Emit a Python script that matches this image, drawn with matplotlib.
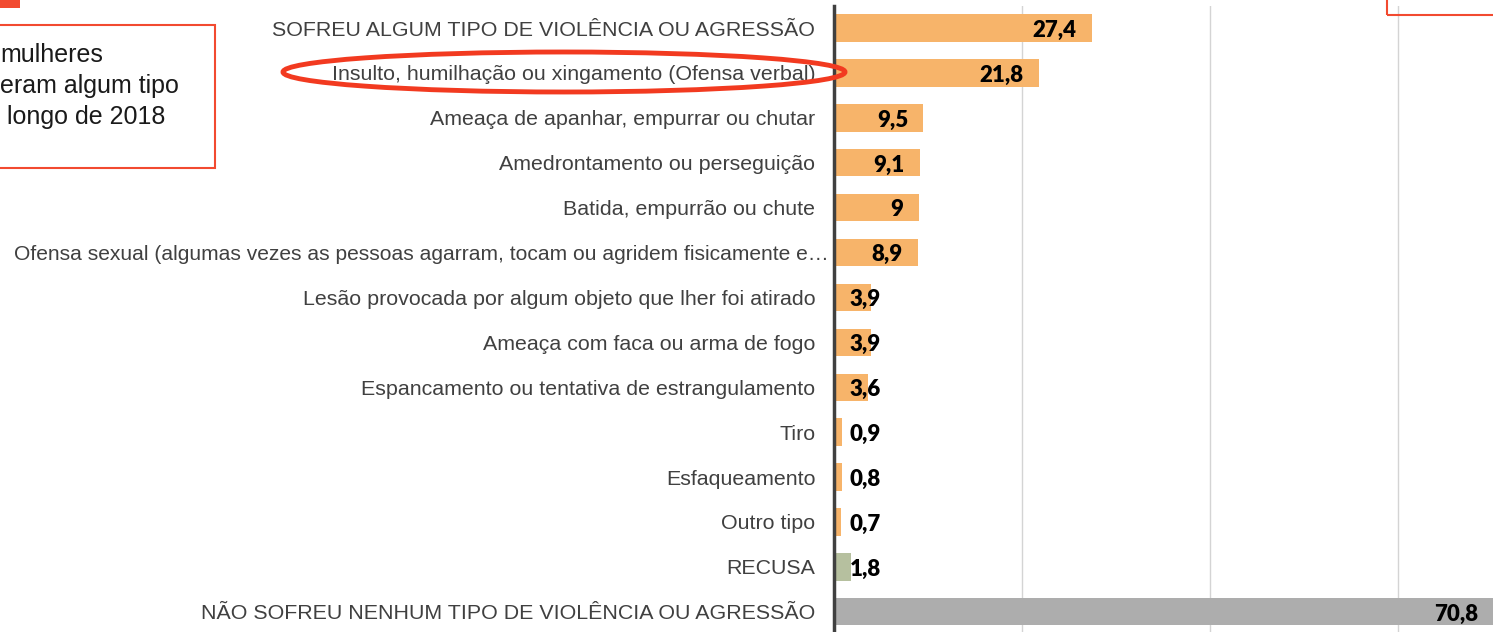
import numpy as np
import matplotlib.pyplot as plt
from matplotlib import patches
from matplotlib.transforms import ScaledTranslation

categories = [
    'SOFREU ALGUM TIPO DE VIOLÊNCIA OU AGRESSÃO',
    'Insulto, humilhação ou xingamento (Ofensa verbal)',
    'Ameaça de apanhar, empurrar ou chutar',
    'Amedrontamento ou perseguição',
    'Batida, empurrão ou chute',
    'Ofensa sexual (algumas vezes as pessoas agarram, tocam ou agridem fisicamente e…',
    'Lesão provocada por algum objeto que lher foi atirado',
    'Ameaça com faca ou arma de fogo',
    'Espancamento ou tentativa de estrangulamento',
    'Tiro',
    'Esfaqueamento',
    'Outro tipo',
    'RECUSA',
    'NÃO SOFREU NENHUM TIPO DE VIOLÊNCIA OU AGRESSÃO',
]
values = [27.4, 21.8, 9.5, 9.1, 9.0, 8.9, 3.9, 3.9, 3.6, 0.9, 0.8, 0.7, 1.8, 70.8]
value_labels = ['27,4', '21,8', '9,5', '9,1', '9', '8,9', '3,9', '3,9', '3,6',
                '0,9', '0,8', '0,7', '1,8', '70,8']
bar_colors = ['#f7b46a'] * 12 + ['#b6c09f', '#adadad']

box_lines = ['mulheres', 'eram algum tipo', ' longo de 2018']

W, H = 1493, 632
fig = plt.figure(figsize=(W / 100, H / 100), dpi=100)
ax = fig.add_axes([834 / W, 0, 1 - 834 / W, 1 - 6 / H])

y = np.arange(len(categories))
ax.barh(y, values, height=0.61, color=bar_colors, zorder=2)
ax.set_xlim(0, 70.1)
ax.set_ylim(13.45, -0.49)

ax.set_xticks([20, 40, 60])
ax.xaxis.grid(True, color='#d4d4d4', lw=1, zorder=0)
ax.tick_params(axis='x', length=0, labelbottom=False)
ax.set_yticks(y)
ax.set_yticklabels(categories, family='Liberation Sans', fontsize=15.4, color='#404040')
ax.tick_params(axis='y', length=0, pad=13.5)
# the long truncated label sits a bit closer to the axis
long_lab = ax.get_yticklabels()[5]
long_lab.set_fontsize(15.1)
long_lab.set_transform(long_lab.get_transform() + ScaledTranslation(0.14, 0, fig.dpi_scale_trans))
for s in ['top', 'right', 'bottom']:
    ax.spines[s].set_visible(False)
ax.spines['left'].set_color('#404040')
ax.spines['left'].set_linewidth(2.5)
ax.spines['left'].set_zorder(3)

for yi, v, lab in zip(y, values, value_labels):
    if v > 5:
        x = min(v, 70.1) - 1.6
        ha = 'right'
    else:
        x = 1.7
        ha = 'left'
    ax.text(x, yi + 0.05, lab, ha=ha, va='center', fontsize=16,
            fontweight='heavy', family='Lato', color='black', zorder=4)

# red annotation box on the left
fig.add_artist(patches.Rectangle((-10 / W, 1 - 168 / H), 225 / W, 143 / H,
                                 transform=fig.transFigure, fill=False,
                                 ec='#f24a30', lw=1.5))
for i, line in enumerate(box_lines):
    fig.text(0 / W, 1 - (62 + 31 * i) / H, line, family='Liberation Sans',
             fontsize=18, color='#1a1a1a', va='baseline', ha='left')
fig.add_artist(patches.Rectangle((0, 1 - 8 / H), 20 / W, 8 / H,
                                 transform=fig.transFigure, color='#f24a30', lw=0))
fig.add_artist(patches.Rectangle((1387 / W, 1 - 15 / H), 200 / W, 100 / H,
                                 transform=fig.transFigure, fill=False,
                                 ec='#f24a30', lw=1.5))

# highlight ellipse around the second label
fig.add_artist(patches.Ellipse((564 / W, 1 - 72 / H), 562 / W, 40 / H,
                               transform=fig.transFigure, fill=False,
                               ec='#f23a20', lw=3.5, zorder=5))

fig.savefig('out.png', dpi=100)
